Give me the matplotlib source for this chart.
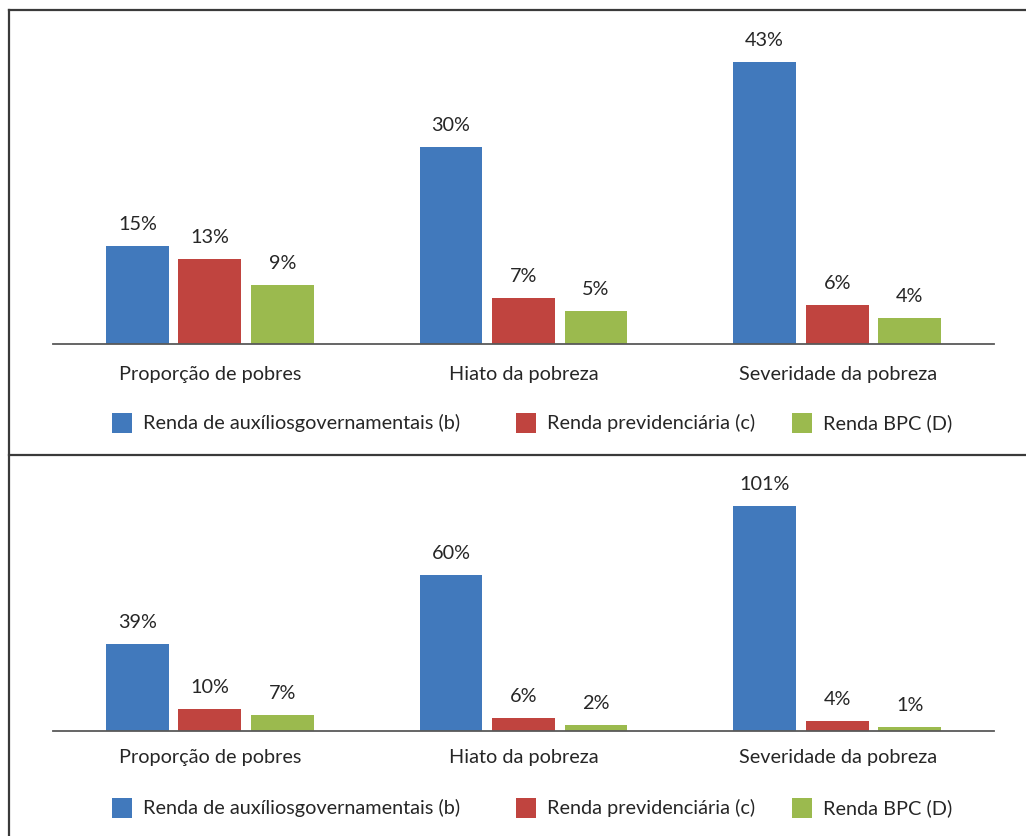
import matplotlib
matplotlib.use("Agg")
import matplotlib.pyplot as plt
from matplotlib.lines import Line2D
from matplotlib.patches import Rectangle

categories = ["Proporção de pobres", "Hiato da pobreza", "Severidade da pobreza"]
series = ["Renda de auxíliosgovernamentais (b)", "Renda previdenciária (c)", "Renda BPC (D)"]
colors = ["#4179BC", "#C0443F", "#9BBA4E"]

# top panel
top_aux = [15, 30, 43]
top_prev = [13, 7, 6]
top_bpc = [9, 5, 4]
top_labels = [["15%", "30%", "43%"], ["13%", "7%", "6%"], ["9%", "5%", "4%"]]

# bottom panel (bar heights as drawn; labels as printed)
bot_aux = [39, 70, 101]
bot_prev = [10, 6, 4.3]
bot_bpc = [7, 2.6, 1.8]
bot_labels = [["39%", "60%", "101%"], ["10%", "6%", "4%"], ["7%", "2%", "1%"]]

plt.rcParams['font.family'] = ['Lato', 'DejaVu Sans']
W, H = 1026, 836
fig = plt.figure(figsize=(W / 100, H / 100), dpi=100)
TXT = "#262626"
FS = 14.3

def fx(px): return px / W
def fy(py): return 1 - py / H

def panel(base_px, top_px, scale, data, labels, cat_y, leg_y):
    ymax = (base_px - top_px) / scale
    ax = fig.add_axes([fx(53), fy(base_px), fx(994) - fx(53), (base_px - top_px) / H])
    ax.set_xlim(-0.5, 2.5)
    ax.set_ylim(0, ymax)
    width = 0.2
    offs = [-0.231, 0.0, 0.231]
    for s, (vals, labs) in enumerate(zip(data, labels)):
        for i, (v, lab) in enumerate(zip(vals, labs)):
            ax.bar(i + offs[s], v, width=width, color=colors[s], linewidth=0)
            ax.annotate(lab, (i + offs[s], v), xytext=(0, 15.5), textcoords="offset points",
                        ha="center", va="center", fontsize=FS, color=TXT)
    for sp in ["top", "right", "left"]:
        ax.spines[sp].set_visible(False)
    ax.spines["bottom"].set_color("#595959")
    ax.spines["bottom"].set_linewidth(1.3)
    ax.set_xticks([])
    ax.set_yticks([])
    for i, c in enumerate(categories):
        fig.text(fx(53 + 314 * i + 157), fy(cat_y), c, ha="center", va="center",
                 fontsize=FS, color=TXT)
    # legend
    sq = [112, 516, 792]
    for s in range(3):
        fig.patches.append(Rectangle((fx(sq[s]), fy(leg_y + 10)), fx(20), 20 / H,
                                     transform=fig.transFigure, color=colors[s], linewidth=0))
        fig.text(fx(sq[s] + 31), fy(leg_y), series[s], ha="left", va="center",
                 fontsize=FS, color=TXT)

panel(344, 30, 6.55, [top_aux, top_prev, top_bpc], top_labels, 374, 423)
panel(731, 480, 2.23, [bot_aux, bot_prev, bot_bpc], bot_labels, 758, 808)

# frame lines
lc = "#3a3a3a"
fig.add_artist(Line2D([fx(9), fx(9)], [fy(10), fy(836)], transform=fig.transFigure, color=lc, lw=1.6))
fig.add_artist(Line2D([fx(9), fx(1026)], [fy(10), fy(10)], transform=fig.transFigure, color=lc, lw=1.6))
fig.add_artist(Line2D([fx(9), fx(1026)], [fy(455), fy(455)], transform=fig.transFigure, color=lc, lw=1.6))

fig.savefig("out.png", dpi=100, facecolor="white")
